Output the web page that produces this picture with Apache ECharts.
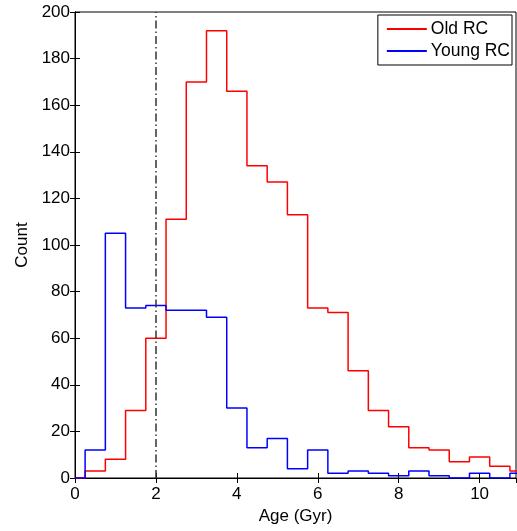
<!DOCTYPE html>
<html>
<head>
<meta charset="utf-8">
<script src="https://cdn.jsdelivr.net/npm/echarts@6/dist/echarts.min.js"></script>
<style>
  html, body { margin: 0; padding: 0; background: #fff; }
  #chart { width: 517px; height: 531px; }
</style>
</head>
<body>
<div id="chart"></div>
<script>
// bin centres (Gyr), bin width 0.5
const ageBins = [0.5, 1.0, 1.5, 2.0, 2.5, 3.0, 3.5, 4.0, 4.5, 5.0, 5.5, 6.0,
  6.5, 7.0, 7.5, 8.0, 8.5, 9.0, 9.5, 10.0, 10.5, 11.0];
const binWidth = 0.5;
const oldRC = [3, 8, 29, 60, 111, 170, 192, 166, 134, 127, 113, 73,
  71, 46, 29, 22, 13, 12, 7, 9, 5, 3];
const youngRC = [12, 105, 73, 74, 72, 72, 69, 30, 13, 17, 4, 12,
  2, 3, 2, 1, 3, 1, 0, 2, 0, 2];
const xTicks = [0, 2, 4, 6, 8, 10];
const cutAge = 2;

// stairs: start at 0, step up at each left bin edge
function stairs(vals) {
  const pts = [[0, 0]];
  ageBins.forEach((c, i) => pts.push([c - binWidth / 2, vals[i]]));
  const last = ageBins.length - 1;
  pts.push([ageBins[last] + binWidth / 2, vals[last]]);
  return pts;
}

const font = "'Liberation Sans', Arial, sans-serif";
const chart = echarts.init(document.getElementById("chart"));

const tick = { show: true, inside: true, length: 5, lineStyle: { color: "#000" } };

const option = {
  animation: false,
  backgroundColor: "#fff",
  textStyle: { fontFamily: font },
  grid: {
    left: 75, right: 1, top: 12, bottom: 53,
    show: true, borderColor: "#000", borderWidth: 1,
  },
  legend: {
    orient: "vertical",
    right: 5,
    top: 15,
    data: [
      { name: "Old RC", icon: "rect" },
      { name: "Young RC", icon: "rect" },
    ],
    itemWidth: 40,
    itemHeight: 2,
    itemGap: 4,
    padding: [5, 2, 5, 9],
    borderColor: "#000",
    borderWidth: 1,
    backgroundColor: "#fff",
    textStyle: { fontFamily: font, fontSize: 17.5, color: "#000", padding: [0, 0, 0, -1] },
  },
  xAxis: [
    {
      type: "value", min: 0, max: 10.9, interval: 2,
      name: "Age (Gyr)", nameLocation: "middle", nameGap: 27,
      nameTextStyle: { fontFamily: font, fontSize: 17, color: "#000" },
      axisLine: { show: true, lineStyle: { color: "#000" } },
      axisTick: tick,
      axisLabel: { fontFamily: font, fontSize: 17, color: "#000", margin: 8, showMaxLabel: false,
        formatter: v => (xTicks.includes(v) ? String(v) : "") },
      splitLine: { show: false },
    },
    {
      type: "value", min: 0, max: 10.9, interval: 2, position: "top",
      axisLine: { show: true, lineStyle: { color: "#000" } },
      axisTick: tick, axisLabel: { show: false }, splitLine: { show: false },
    },
  ],
  yAxis: [
    {
      type: "value", min: 0, max: 200, interval: 20,
      name: "Count", nameLocation: "middle", nameGap: 42, nameRotate: 90,
      nameTextStyle: { fontFamily: font, fontSize: 17, color: "#000" },
      axisLine: { show: true, lineStyle: { color: "#000" } },
      axisTick: tick,
      axisLabel: { fontFamily: font, fontSize: 17, color: "#000", margin: 5 },
      splitLine: { show: false },
    },
    {
      type: "value", min: 0, max: 200, interval: 20, position: "right",
      axisLine: { show: true, lineStyle: { color: "#000" } },
      axisTick: tick, axisLabel: { show: false }, splitLine: { show: false },
    },
  ],
  series: [
    {
      name: "Old RC", type: "line", step: "end",
      data: stairs(oldRC), showSymbol: false, clip: true,
      lineStyle: { color: "#ff0000", width: 1.5 },
      itemStyle: { color: "#ff0000" },
      z: 3,
      markLine: {
        silent: true, symbol: "none", label: { show: false },
        lineStyle: { color: "#333", width: 1.5, type: [8, 3, 1.5, 3] },
        data: [{ xAxis: cutAge }],
      },
    },
    {
      name: "Young RC", type: "line", step: "end",
      data: stairs(youngRC), showSymbol: false, clip: true,
      lineStyle: { color: "#0000ff", width: 1.5 },
      itemStyle: { color: "#0000ff" },
      z: 4,
    },
  ],
};
chart.setOption(option);
</script>
</body>
</html>
